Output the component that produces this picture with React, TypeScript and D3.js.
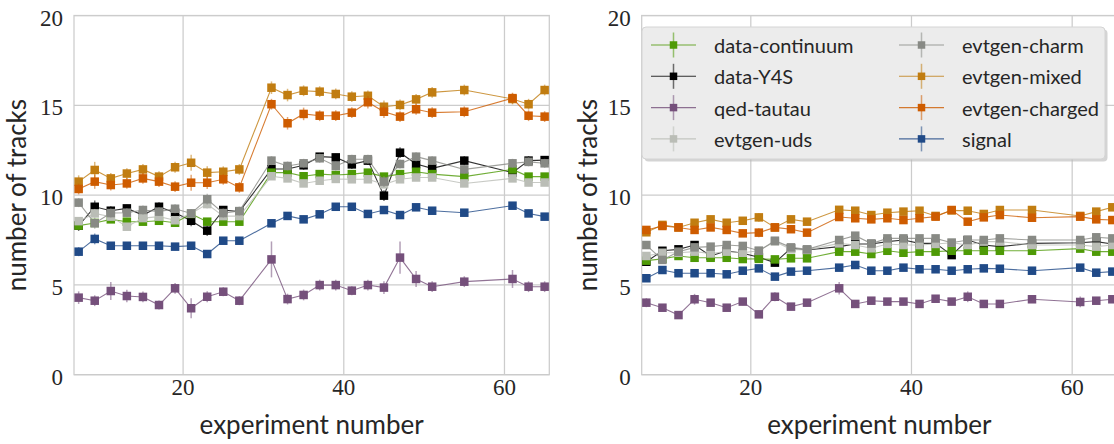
import React from 'react'
import * as d3 from 'd3'

const experiments = [7, 9, 11, 13, 15, 17, 19, 21, 23, 25, 27, 31, 33, 35, 37, 39, 41, 43, 45, 47, 49, 51, 55, 61, 63, 65]
const seriesNames = ['data-continuum', 'data-Y4S', 'qed-tautau', 'evtgen-uds', 'evtgen-charm', 'evtgen-mixed', 'evtgen-charged', 'signal']
const seriesColors = ['#4e9a06', '#000000', '#75507b', '#babdb6', '#888a85', '#c17d11', '#ce5c00', '#204a87']
const yTicks = [0, 5, 10, 15, 20]
const xTicks = [20, 40, 60]

// left panel values
const continuumLeft = [8.3, 8.45, 8.65, 8.52, 8.52, 8.57, 8.46, 8.95, 8.52, 8.52, 8.52, 11.25, 11.25, 11.05, 11.17, 11.12, 11.17, 11.25, 11.03, 11.17, 11.3, 11.17, 11.03, 11.43, 11.03, 11.03]
const y4sLeft = [8.3, 9.35, 9.13, 9.26, 8.89, 9.35, 9.02, 8.57, 8.02, 9.17, 9.08, 11.45, 11.45, 11.66, 12.14, 12.1, 11.71, 11.92, 9.97, 12.36, 11.73, 11.49, 11.92, 11.25, 11.92, 11.95]
const tautauLeft = [4.29, 4.12, 4.66, 4.38, 4.33, 3.88, 4.81, 3.7, 4.34, 4.62, 4.12, 6.42, 4.21, 4.44, 4.99, 4.99, 4.68, 4.99, 4.85, 6.52, 5.33, 4.9, 5.18, 5.33, 4.9, 4.9]
const udsLeft = [8.55, 8.98, 8.8, 8.24, 8.72, 8.8, 8.6, 8.98, 9.5, 8.83, 8.83, 11.05, 10.93, 10.65, 10.8, 10.9, 10.88, 10.88, 10.6, 10.88, 10.98, 10.98, 10.65, 10.93, 10.7, 10.7]
const charmLeft = [9.58, 8.43, 9.0, 9.02, 9.17, 9.08, 9.24, 8.98, 9.77, 9.0, 9.11, 11.92, 11.62, 11.77, 12.05, 11.62, 12.0, 12.0, 10.75, 11.73, 12.14, 11.92, 11.43, 11.77, 11.85, 11.77]
const mixedLeft = [10.75, 11.4, 10.93, 11.2, 11.43, 11.03, 11.55, 11.8, 11.25, 11.3, 11.43, 15.98, 15.57, 15.81, 15.76, 15.63, 15.48, 15.53, 14.92, 15.02, 15.33, 15.72, 15.85, 15.35, 15.06, 15.85]
const chargedLeft = [10.34, 10.75, 10.56, 10.65, 10.93, 10.75, 10.47, 10.69, 10.69, 10.88, 10.43, 15.06, 14.0, 14.52, 14.42, 14.42, 14.59, 15.17, 14.64, 14.37, 14.78, 14.59, 14.64, 15.4, 14.42, 14.37]
const signalLeft = [6.85, 7.56, 7.18, 7.18, 7.18, 7.18, 7.13, 7.18, 6.72, 7.46, 7.46, 8.43, 8.84, 8.65, 8.93, 9.35, 9.35, 8.95, 9.17, 8.89, 9.32, 9.13, 9.02, 9.41, 8.98, 8.8]

const continuumLeftErr = [0.2, 0.15, 0.15, 0.15, 0.15, 0.15, 0.15, 0.15, 0.15, 0.15, 0.15, 0.2, 0.15, 0.15, 0.15, 0.15, 0.15, 0.15, 0.15, 0.15, 0.15, 0.15, 0.15, 0.2, 0.15, 0.15]
const y4sLeftErr = [0.3, 0.35, 0.25, 0.2, 0.25, 0.25, 0.3, 0.3, 0.3, 0.2, 0.2, 0.3, 0.25, 0.25, 0.2, 0.2, 0.25, 0.25, 0.3, 0.3, 0.3, 0.25, 0.25, 0.3, 0.25, 0.2]
const tautauLeftErr = [0.35, 0.3, 0.5, 0.35, 0.3, 0.25, 0.3, 0.55, 0.3, 0.25, 0.25, 1.0, 0.3, 0.3, 0.3, 0.3, 0.25, 0.3, 0.35, 0.9, 0.45, 0.3, 0.3, 0.5, 0.3, 0.3]
const udsLeftErr = [0.2, 0.25, 0.2, 0.2, 0.2, 0.2, 0.2, 0.25, 0.25, 0.2, 0.2, 0.2, 0.2, 0.2, 0.2, 0.2, 0.2, 0.2, 0.2, 0.2, 0.2, 0.2, 0.2, 0.2, 0.2, 0.2]
const charmLeftErr = [0.25, 0.3, 0.25, 0.25, 0.25, 0.25, 0.25, 0.25, 0.3, 0.25, 0.25, 0.25, 0.25, 0.25, 0.25, 0.25, 0.25, 0.25, 0.3, 0.25, 0.25, 0.25, 0.25, 0.25, 0.25, 0.25]
const mixedLeftErr = [0.35, 0.45, 0.3, 0.3, 0.3, 0.3, 0.3, 0.45, 0.35, 0.3, 0.3, 0.35, 0.35, 0.3, 0.3, 0.3, 0.3, 0.3, 0.35, 0.3, 0.3, 0.3, 0.3, 0.3, 0.3, 0.3]
const chargedLeftErr = [0.3, 0.4, 0.3, 0.3, 0.3, 0.3, 0.3, 0.45, 0.35, 0.3, 0.3, 0.3, 0.35, 0.35, 0.3, 0.3, 0.3, 0.35, 0.35, 0.3, 0.3, 0.3, 0.3, 0.3, 0.3, 0.3]
const signalLeftErr = [0.25, 0.3, 0.2, 0.2, 0.2, 0.2, 0.2, 0.2, 0.2, 0.2, 0.2, 0.2, 0.2, 0.2, 0.2, 0.2, 0.2, 0.2, 0.2, 0.2, 0.2, 0.2, 0.2, 0.2, 0.2, 0.2]

// right panel values
const continuumRight = [6.35, 6.45, 6.61, 6.51, 6.51, 6.51, 6.44, 6.45, 6.42, 6.48, 6.48, 6.85, 6.85, 6.72, 6.9, 6.79, 6.85, 6.85, 6.9, 6.9, 6.9, 6.9, 6.9, 7.02, 6.85, 6.85]
const y4sRight = [6.29, 6.9, 6.98, 7.22, 6.61, 6.9, 6.76, 6.54, 6.24, 7.04, 6.94, 7.13, 7.28, 7.28, 7.41, 7.5, 7.31, 7.31, 6.66, 7.5, 7.22, 7.13, 7.31, 7.35, 7.41, 7.28]
const tautauRight = [4.01, 3.73, 3.32, 4.2, 4.01, 3.73, 4.07, 3.36, 4.34, 3.79, 4.01, 4.81, 3.94, 4.12, 4.07, 4.07, 3.94, 4.23, 4.07, 4.34, 3.94, 3.94, 4.2, 4.05, 4.12, 4.2]
const udsRight = [6.61, 6.79, 6.79, 6.85, 6.75, 6.85, 6.79, 6.9, 7.41, 6.98, 6.95, 7.31, 7.22, 7.04, 7.28, 7.22, 7.22, 7.28, 7.35, 7.22, 7.41, 7.41, 7.22, 7.22, 7.13, 7.22]
const charmRight = [7.22, 6.39, 6.85, 7.09, 7.13, 7.22, 7.17, 6.9, 7.46, 7.09, 6.98, 7.5, 7.74, 7.3, 7.59, 7.59, 7.59, 7.59, 7.35, 7.5, 7.5, 7.59, 7.5, 7.5, 7.65, 7.59]
const mixedRight = [7.93, 8.34, 8.2, 8.46, 8.65, 8.46, 8.57, 8.76, 8.2, 8.65, 8.52, 9.18, 9.13, 8.89, 9.02, 9.08, 9.13, 8.84, 9.15, 9.13, 8.95, 9.17, 9.17, 8.84, 9.08, 9.32]
const chargedRight = [8.06, 8.28, 8.2, 8.06, 8.2, 8.06, 7.87, 7.91, 8.2, 8.1, 7.91, 8.78, 8.71, 8.65, 8.71, 8.61, 8.71, 8.8, 9.17, 8.52, 8.76, 8.89, 8.74, 8.8, 8.65, 8.61]
const signalRight = [5.37, 5.83, 5.65, 5.65, 5.65, 5.59, 5.79, 5.92, 5.46, 5.74, 5.79, 5.96, 6.11, 5.79, 5.79, 5.96, 5.87, 5.87, 5.79, 5.87, 5.92, 5.9, 5.79, 5.96, 5.68, 5.74]

const continuumRightErr = [0.15, 0.12, 0.12, 0.12, 0.12, 0.12, 0.12, 0.12, 0.12, 0.12, 0.12, 0.12, 0.12, 0.12, 0.12, 0.12, 0.12, 0.12, 0.12, 0.12, 0.12, 0.12, 0.12, 0.12, 0.12, 0.12]
const y4sRightErr = [0.2, 0.2, 0.15, 0.15, 0.15, 0.15, 0.15, 0.15, 0.2, 0.15, 0.15, 0.15, 0.15, 0.15, 0.15, 0.15, 0.15, 0.15, 0.2, 0.15, 0.15, 0.15, 0.15, 0.15, 0.15, 0.15]
const tautauRightErr = [0.25, 0.2, 0.2, 0.3, 0.2, 0.2, 0.2, 0.2, 0.25, 0.2, 0.2, 0.35, 0.2, 0.2, 0.2, 0.2, 0.2, 0.2, 0.2, 0.3, 0.2, 0.2, 0.2, 0.3, 0.2, 0.2]
const udsRightErr = [0.15, 0.15, 0.12, 0.12, 0.12, 0.12, 0.12, 0.12, 0.15, 0.12, 0.12, 0.12, 0.12, 0.12, 0.12, 0.12, 0.12, 0.12, 0.12, 0.12, 0.12, 0.12, 0.12, 0.12, 0.12, 0.12]
const charmRightErr = [0.15, 0.15, 0.15, 0.15, 0.15, 0.15, 0.15, 0.15, 0.15, 0.15, 0.15, 0.15, 0.15, 0.15, 0.15, 0.15, 0.15, 0.15, 0.15, 0.15, 0.15, 0.15, 0.15, 0.15, 0.15, 0.15]
const mixedRightErr = [0.2, 0.2, 0.2, 0.2, 0.2, 0.2, 0.2, 0.25, 0.2, 0.2, 0.2, 0.2, 0.2, 0.2, 0.2, 0.2, 0.2, 0.2, 0.2, 0.2, 0.2, 0.2, 0.2, 0.2, 0.2, 0.2]
const chargedRightErr = [0.2, 0.2, 0.2, 0.2, 0.2, 0.2, 0.2, 0.25, 0.2, 0.2, 0.2, 0.2, 0.2, 0.2, 0.2, 0.2, 0.2, 0.2, 0.2, 0.2, 0.2, 0.2, 0.2, 0.2, 0.2, 0.2]
const signalRightErr = [0.15, 0.15, 0.12, 0.12, 0.12, 0.12, 0.12, 0.12, 0.12, 0.12, 0.12, 0.12, 0.12, 0.12, 0.12, 0.12, 0.12, 0.12, 0.12, 0.12, 0.12, 0.12, 0.12, 0.12, 0.12, 0.12]

const leftValues = [continuumLeft, y4sLeft, tautauLeft, udsLeft, charmLeft, mixedLeft, chargedLeft, signalLeft]
const leftErrors = [continuumLeftErr, y4sLeftErr, tautauLeftErr, udsLeftErr, charmLeftErr, mixedLeftErr, chargedLeftErr, signalLeftErr]
const rightValues = [continuumRight, y4sRight, tautauRight, udsRight, charmRight, mixedRight, chargedRight, signalRight]
const rightErrors = [continuumRightErr, y4sRightErr, tautauRightErr, udsRightErr, charmRightErr, mixedRightErr, chargedRightErr, signalRightErr]

// order the series are painted in (data-Y4S sits under data-continuum)
const drawOrder = [1, 0, 2, 3, 4, 5, 6, 7]

const W = 1114
const H = 444
const plotW = 475.3
const plotH = 359.2
const top = 15.5
const grid = '#cccccc'
const textColor = '#262626'
const serifStyle = { fontFamily: "'Liberation Serif', serif" }
const sansStyle = { fontFamily: "Lato, 'Open Sans', sans-serif" }

const x = d3.scaleLinear().domain([6.42, 65.58]).range([0, plotW])
const y = d3.scaleLinear().domain([0, 20]).range([plotH, 0])

function Panel({ left, values, errors, labelX }) {
  const line = d3
    .line<number>()
    .x((_, i) => x(experiments[i]))
    .y((d) => y(d))
  const m = 8.5
  return (
    <g transform={`translate(${left},${top})`}>
      {yTicks.map((t) => (
        <line key={'gy' + t} x1={0} x2={plotW} y1={y(t)} y2={y(t)} stroke={grid} strokeWidth={1.25} />
      ))}
      {xTicks.map((t) => (
        <line key={'gx' + t} x1={x(t)} x2={x(t)} y1={0} y2={plotH} stroke={grid} strokeWidth={1.25} />
      ))}
      <rect x={0} y={0} width={plotW} height={plotH} fill="none" stroke={grid} strokeWidth={1.25} />
      {drawOrder.map((s) => {
        const c = seriesColors[s]
        const vals = values[s]
        const errs = errors[s]
        return (
          <g key={seriesNames[s]}>
            <path d={line(vals)} fill="none" stroke={c} strokeWidth={1.1} strokeOpacity={0.8} />
            {vals.map((v, i) => (
              <line
                key={'e' + i}
                x1={x(experiments[i])}
                x2={x(experiments[i])}
                y1={y(v - errs[i])}
                y2={y(v + errs[i])}
                stroke={c}
                strokeWidth={1.5}
                strokeOpacity={0.55}
              />
            ))}
            {vals.map((v, i) => (
              <rect key={'m' + i} x={x(experiments[i]) - m / 2} y={y(v) - m / 2} width={m} height={m} fill={c} />
            ))}
          </g>
        )
      })}
      {yTicks.map((t) => (
        <text
          key={'ty' + t}
          x={-11}
          y={y(t) + 2.5}
          textAnchor="end"
          dominantBaseline="central"
          style={serifStyle}
          fontSize={23}
          fill={textColor}
        >
          {t}
        </text>
      ))}
      {xTicks.map((t) => (
        <text key={'tx' + t} x={x(t)} y={plotH + 20.5} textAnchor="middle" style={serifStyle} fontSize={23} fill={textColor}>
          {t}
        </text>
      ))}
      <text x={plotW / 2} y={plotH + 59} textAnchor="middle" style={sansStyle} fontSize={26} fill={textColor}>
        experiment number
      </text>
      <text
        transform={`translate(${labelX},${plotH / 2}) rotate(-90)`}
        textAnchor="middle"
        style={sansStyle}
        fontSize={26}
        fill={textColor}
      >
        number of tracks
      </text>
    </g>
  )
}

function Legend() {
  const bx = 642
  const by = 27
  const bw = 463
  const bh = 132
  const cols = [651, 899]
  const rows = [45, 76.3, 107.6, 138.9]
  return (
    <g>
      <rect x={bx + 2.5} y={by + 2.5} width={bw} height={bh} rx={4} fill="#b8b8b8" opacity={0.6} />
      <rect x={bx} y={by} width={bw} height={bh} rx={4} fill="#ececec" stroke="#d4d4d4" strokeWidth={1} />
      {seriesNames.map((name, s) => {
        const cx = cols[Math.floor(s / 4)]
        const cy = rows[s % 4]
        const c = seriesColors[s]
        return (
          <g key={name}>
            <line x1={cx} x2={cx + 45} y1={cy} y2={cy} stroke={c} strokeWidth={1.1} strokeOpacity={0.8} />
            <line x1={cx + 22.5} x2={cx + 22.5} y1={cy - 12.5} y2={cy + 12.5} stroke={c} strokeWidth={1.5} strokeOpacity={0.55} />
            <rect x={cx + 22.5 - 3.75} y={cy - 3.75} width={7.5} height={7.5} fill={c} />
            <text x={cx + 63} y={cy} dominantBaseline="central" style={sansStyle} fontSize={20} fill={textColor}>
              {name}
            </text>
          </g>
        )
      })}
    </g>
  )
}

export default function App() {
  return (
    <svg width={W} height={H} style={{ position: 'absolute', left: 0, top: 0, background: '#fff' }}>
      <Panel left={74} values={leftValues} errors={leftErrors} labelX={-48} />
      <Panel left={641.7} values={rightValues} errors={rightErrors} labelX={-45} />
      <Legend />
    </svg>
  )
}
